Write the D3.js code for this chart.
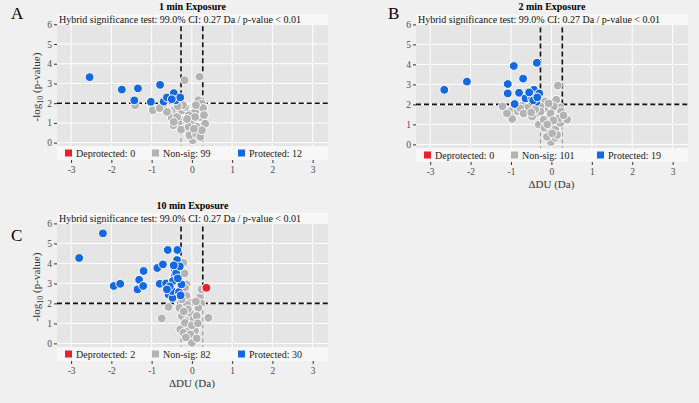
<html>
<head>
<meta charset="utf-8">
<style>
  body { margin: 0; background: #f0f0f0; font-family: "Liberation Serif", "Times New Roman", serif; }
  svg { display: block; }
</style>
<script src="https://cdn.jsdelivr.net/npm/d3@7"></script>
</head>
<body>
<svg id="chart" width="699" height="403"></svg>
<script>
// ---- data: [deltaDU, -log10 p] ----
let titles = ["1 min Exposure", "2 min Exposure", "10 min Exposure"]
let letters = ["A", "B", "C"]
let xTicks = [-3, -2, -1, 0, 1, 2, 3]
let yTicks = [0, 1, 2, 3, 4, 5, 6]
let ciLimit = 0.27
let pLimit = 2
let legendNames = ["Deprotected", "Non-sig", "Protected"]

let countsA = [0, 99, 12]
let countsB = [0, 101, 19]
let countsC = [2, 82, 30]

let protectedA = [[-2.54,3.32],[-1.74,2.69],[-1.34,2.75],[-1.43,2.14],[-1.02,2.07],[-0.79,2.93],[-0.70,2.08],
  [-0.62,2.29],[-0.45,2.51],[-0.40,2.15],[-0.29,2.29],[-0.50,2.2]]
let nonsigA = [[-0.18,3.17],[0.19,3.34],[-1.41,1.89],[-0.97,1.64],[-0.72,1.89],[-0.46,1.64],[-0.58,1.55],[-0.50,1.25],
  [-0.29,1.55],[-0.21,1.13],[-0.33,0.96],[-0.09,0.88],[-0.17,0.71],[0,0.46],[0.02,0.12],[0.12,0.37],[0.16,0.71],
  [0.2,1.3],[0.19,1.72],[0.16,2.15],[0.33,0.96],[0.25,1.98],[-0.06,1.47],[-0.46,0.88],[-0.37,1.3],[0.04,1.05],
  [0.08,1.55],[-0.27,0.66],[-0.08,0.8],[-0.06,0.37],[0.10,0.46],[0.21,0.29],[-0.25,1.64],[-0.17,1.81],[-0.08,1.39],
  [0.08,1.3],[0.12,0.8],[0.25,0.63],[-0.62,1.56],[-0.45,1.05],[-0.8,1.75],[-0.12,1.2],[0.05,0.7],[0.28,1.75],
  [-0.22,1.9],[0.1,1.9],[-0.35,1.85],[0.3,1.4]]
let deprotectedA = []

let protectedB = [[-2.65,2.73],[-2.09,3.14],[-0.93,3.92],[-0.36,4.08],[-1.08,3.02],[-0.70,3.29],[-1.08,2.55],
  [-0.80,2.58],[-0.64,2.30],[-0.50,2.63],[-0.43,2.73],[-0.34,2.48],[-0.48,2.30],[-0.37,2.13],[-0.91,2.02],
  [-0.55,2.6],[-0.30,2.55],[-0.45,2.2],[-0.35,2.35]]
let nonsigB = [[0.16,2.94],[0.12,2.23],[0.22,1.85],[-1.21,1.9],[-1.02,1.65],[-1.0,1.40],[-0.97,1.27],[-0.83,1.65],
  [-0.73,1.93],[-0.60,1.82],[-0.40,1.52],[-0.31,0.99],[-0.19,1.24],[-0.17,1.74],[-0.15,2.15],[-0.04,1.49],
  [-0.17,0.83],[-0.02,0.91],[-0.07,0.50],[-0.01,0.12],[0.10,0.33],[0.10,0.74],[0.22,1.07],[0.26,1.37],[0.39,1.24],
  [0.24,1.65],[0.06,1.90],[-0.27,1.90],[-0.77,1.8],[-0.69,1.55],[-0.48,1.39],[-0.27,1.64],[-0.07,2.05],[-0.02,1.55],
  [0.18,1.3],[0.14,0.47],[-0.11,0.38],[0.02,0.55],[-0.4,1.75],[-0.5,1.6],[0.05,1.2],[-0.1,1.0],[-1.1,1.55],[0.3,1.45]]
let deprotectedB = []

let protectedC = [[-2.21,5.5],[-2.80,4.27],[-1.94,2.87],[-1.78,2.98],[-1.35,2.70],[-1.31,3.18],[-1.21,2.87],
  [-1.20,3.62],[-0.86,3.77],[-0.72,3.95],[-0.80,2.98],[-0.64,3.00],[-0.60,4.67],[-0.36,4.67],[-0.37,4.17],
  [-0.43,3.73],[-0.42,3.40],[-0.47,3.12],[-0.58,2.45],[-0.48,2.28],[-0.49,2.62],[-0.32,2.57],[-0.26,2.95],
  [-0.39,3.53],[-0.3,3.85],[-0.55,2.85],[-0.62,2.7],[-0.35,3.25],[-0.45,3.9],[-0.28,2.4]]
let nonsigC = [[-0.21,4.03],[-0.18,3.50],[-0.13,2.95],[-0.17,2.78],[-0.13,2.37],[0.2,2.3],[0.24,2.7],[0.23,2.0],
  [0.41,1.28],[-0.58,1.82],[-0.75,1.25],[-0.31,1.78],[-0.25,1.37],[-0.21,0.95],[-0.29,0.7],[-0.13,1.12],[-0.04,1.53],
  [0.04,1.2],[0.08,0.87],[0,0.37],[0.08,0.62],[-0.09,0.62],[-0.21,0.53],[0.16,1.78],[-0.04,2.03],[0.04,0.12],
  [0,0.03],[-0.04,0.45],[0.12,1.37],[-0.17,1.03],[-0.12,1.95],[-0.25,2.2],[0.1,2.1],[-0.1,1.7],[0.0,0.9],
  [-0.2,1.6],[0.15,1.0],[-0.15,0.3],[0.12,0.25]]
let deprotectedC = [[0.35,2.75],[0.36,2.78]]

let colors = { dep: "#e8202a", non: "#b3b3b3", pro: "#1468e0" }

let svg = d3.select("#chart")

function drawPanel(cfg) {
  let { left, right, top, bottom, title, letter, counts, pro, non, dep, yLabel, xLabel } = cfg
  let x = d3.scaleLinear().domain([-3.35, 3.38]).range([left, right])
  let y = d3.scaleLinear().domain([-0.88, 6.52]).range([bottom, top])
  let g = svg.append("g")

  g.append("rect").attr("x", left).attr("y", top).attr("width", right - left).attr("height", bottom - top)
    .attr("fill", "#e5e5e5")

  // grid
  g.selectAll(".gx").data(xTicks).enter().append("line")
    .attr("x1", d => x(d)).attr("x2", d => x(d)).attr("y1", top).attr("y2", bottom)
    .attr("stroke", "#fff").attr("stroke-width", 1)
  g.selectAll(".gy").data(yTicks).enter().append("line")
    .attr("y1", d => y(d)).attr("y2", d => y(d)).attr("x1", left).attr("x2", right)
    .attr("stroke", "#fff").attr("stroke-width", 1)

  // threshold lines
  let lines = g.append("g").attr("fill", "none")
  ;[-ciLimit, ciLimit].forEach(v => {
    lines.append("line").attr("x1", x(v)).attr("x2", x(v)).attr("y1", y(pLimit)).attr("y2", bottom)
      .attr("stroke", "#7a7a7a").attr("stroke-width", 0.8).attr("stroke-dasharray", "4,3")
    lines.append("line").attr("x1", x(v)).attr("x2", x(v)).attr("y1", y(pLimit)).attr("y2", top)
      .attr("stroke", "#111").attr("stroke-width", 1.6).attr("stroke-dasharray", "5,3")
  })
  lines.append("line").attr("x1", left).attr("x2", x(-ciLimit)).attr("y1", y(pLimit)).attr("y2", y(pLimit))
    .attr("stroke", "#111").attr("stroke-width", 1.6).attr("stroke-dasharray", "5,3")
  lines.append("line").attr("x1", x(ciLimit)).attr("x2", right).attr("y1", y(pLimit)).attr("y2", y(pLimit))
    .attr("stroke", "#111").attr("stroke-width", 1.6).attr("stroke-dasharray", "5,3")

  // points
  let layers = [[non, colors.non], [pro, colors.pro], [dep, colors.dep]]
  layers.forEach(([pts, c]) => {
    g.append("g").selectAll("circle").data(pts).enter().append("circle")
      .attr("cx", d => x(d[0])).attr("cy", d => y(d[1])).attr("r", 4.4)
      .attr("fill", c).attr("stroke", "#fff").attr("stroke-width", 1)
  })

  // annotation box
  g.append("rect").attr("x", left).attr("y", top).attr("width", right - left).attr("height", 11)
    .attr("fill", "#f7f7f7")
  g.append("text").attr("x", left + 2).attr("y", top + 9).attr("font-size", 10).attr("fill", "#111")
    .text("Hybrid significance test: 99.0% CI: 0.27 Da / p-value < 0.01")

  // legend box
  g.append("rect").attr("x", left).attr("y", bottom - 14).attr("width", right - left).attr("height", 14)
    .attr("fill", "#f7f7f7")
  let legCols = [colors.dep, colors.non, colors.pro]
  let legX = [8, 95, 181]
  legendNames.forEach((n, i) => {
    g.append("rect").attr("x", left + legX[i]).attr("y", bottom - 10.5).attr("width", 7).attr("height", 7)
      .attr("fill", legCols[i])
    g.append("text").attr("x", left + legX[i] + 11).attr("y", bottom - 3.5).attr("font-size", 10)
      .attr("fill", "#222").text(n + ": " + counts[i])
  })

  // axes
  let ax = g.append("g").attr("transform", `translate(0,${bottom})`)
    .call(d3.axisBottom(x).tickValues(xTicks).tickFormat(d => String(d)).tickSize(3).tickPadding(3))
  ax.select(".domain").remove()
  ax.selectAll("line").attr("stroke", "#333")
  ax.selectAll("text").attr("font-family", "Liberation Serif, serif").attr("font-size", 9.5).attr("fill", "#4d4d4d")

  let ay = g.append("g").attr("transform", `translate(${left},0)`)
    .call(d3.axisLeft(y).tickValues(yTicks).tickFormat(d => String(d)).tickSize(3).tickPadding(2))
  ay.select(".domain").remove()
  ay.selectAll("line").attr("stroke", "#333")
  ay.selectAll("text").attr("font-family", "Liberation Serif, serif").attr("font-size", 9.5).attr("fill", "#4d4d4d")

  // titles
  g.append("text").attr("x", (left + right) / 2).attr("y", top - 4).attr("text-anchor", "middle")
    .attr("font-size", 10).attr("font-weight", "bold").text(title)
  g.append("text").attr("x", cfg.letterX).attr("y", cfg.letterY).attr("font-size", 17).text(letter)

  if (yLabel) {
    let t = g.append("text").attr("transform", `translate(40,${(top + bottom) / 2}) rotate(-90)`)
      .attr("text-anchor", "middle").attr("font-size", 11).attr("fill", "#333")
    t.append("tspan").text("-log")
    t.append("tspan").attr("font-size", 8).attr("dy", 3).text("10")
    t.append("tspan").attr("dy", -3).text(" (p-value)")
  }
  if (xLabel) {
    g.append("text").attr("x", x(0)).attr("y", bottom + 26).attr("text-anchor", "middle")
      .attr("font-size", 11).attr("fill", "#333").text("\u0394DU (Da)")
  }
}

drawPanel({ left: 57, right: 328, top: 14, bottom: 160, title: titles[0], letter: letters[0], letterX: 11, letterY: 19,
  counts: countsA, pro: protectedA, non: nonsigA, dep: deprotectedA, yLabel: true, xLabel: false })
drawPanel({ left: 416, right: 688, top: 14, bottom: 162, title: titles[1], letter: letters[1], letterX: 388, letterY: 19,
  counts: countsB, pro: protectedB, non: nonsigB, dep: deprotectedB, yLabel: false, xLabel: true })
drawPanel({ left: 57, right: 328, top: 213, bottom: 361, title: titles[2], letter: letters[2], letterX: 11, letterY: 241,
  counts: countsC, pro: protectedC, non: nonsigC, dep: deprotectedC, yLabel: true, xLabel: true })
</script>
</body>
</html>
